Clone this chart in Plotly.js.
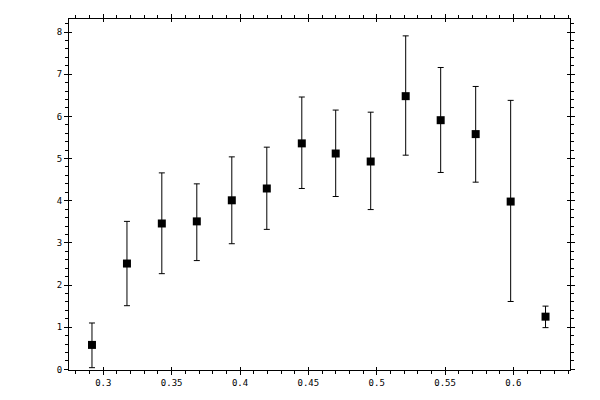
<!DOCTYPE html>
<html>
<head>
<meta charset="utf-8">
<script src="https://cdn.plot.ly/plotly-3.0.1.min.js"></script>
<style>
  html, body { margin: 0; padding: 0; background: #fff; }
  #chart { width: 600px; height: 400px; }
</style>
</head>
<body>
<div id="chart"></div>
<script>
// values
const xs = [0.2917, 0.3173, 0.3428, 0.3684, 0.394, 0.4196, 0.4452, 0.47,
  0.4956, 0.5212, 0.5468, 0.5724, 0.598, 0.6235];
const ys = [0.58, 2.51, 3.46, 3.51, 4.01, 4.29, 5.36, 5.12, 4.93, 6.48, 5.91, 5.58, 3.98, 1.25];
const yHigh = [1.10, 3.51, 4.66, 4.40, 5.04, 5.27, 6.46, 6.15, 6.10, 7.91, 7.16, 6.71, 6.38, 1.50];
const yLow = [0.04, 1.51, 2.27, 2.58, 2.98, 3.32, 4.29, 4.10, 3.79, 5.08, 4.67, 4.44, 1.61, 0.99];

const errPlus = ys.map((v, i) => yHigh[i] - v);
const errMinus = ys.map((v, i) => v - yLow[i]);

const xRange = [0.2749, 0.6414];
const yRange = [-0.015, 8.31];

var data = [{
  x: xs,
  y: ys,
  type: "scatter",
  mode: "markers",
  marker: { symbol: "square", size: 8, color: "#000" },
  error_y: {
    type: "data",
    symmetric: false,
    array: errPlus,
    arrayminus: errMinus,
    color: "#000",
    thickness: 1,
    width: 3,
  },
  hoverinfo: "x+y",
}];

var tickFont = { family: "DejaVu Sans Mono", size: 9, color: "#000" };

var layout = {
  width: 600,
  height: 400,
  margin: { l: 69, r: 30, t: 19, b: 30 },
  paper_bgcolor: "#fff",
  plot_bgcolor: "#fff",
  showlegend: false,
  xaxis: {
    range: xRange,
    showgrid: false,
    zeroline: false,
    showline: true,
    linecolor: "#000",
    linewidth: 1,
    mirror: "ticks",
    ticks: "outside",
    ticklen: 4,
    tickwidth: 1,
    tickcolor: "#000",
    dtick: 0.05,
    tick0: 0,
    tickfont: tickFont,
    minor: { dtick: 0.01, tick0: 0, ticks: "outside", ticklen: 3, tickcolor: "#000", showgrid: false },
  },
  yaxis: {
    range: yRange,
    showgrid: false,
    zeroline: false,
    showline: true,
    linecolor: "#000",
    linewidth: 1,
    mirror: "ticks",
    ticks: "outside",
    ticklen: 4,
    tickwidth: 1,
    tickcolor: "#000",
    dtick: 1,
    tick0: 0,
    tickfont: tickFont,
    minor: { dtick: 0.2, tick0: 0, ticks: "outside", ticklen: 3, tickcolor: "#000", showgrid: false },
  },
  // inner half of the major ticks
  xaxis2: {
    overlaying: "x",
    range: xRange,
    showgrid: false,
    zeroline: false,
    showticklabels: false,
    mirror: "ticks",
    ticks: "inside",
    ticklen: 3,
    tickcolor: "#000",
    dtick: 0.05,
    tick0: 0,
  },
  yaxis2: {
    overlaying: "y",
    range: yRange,
    showgrid: false,
    zeroline: false,
    showticklabels: false,
    mirror: "ticks",
    ticks: "inside",
    ticklen: 3,
    tickcolor: "#000",
    dtick: 1,
    tick0: 0,
  },
};

// empty trace just so the overlay axes get drawn
data.push({ x: [], y: [], xaxis: "x2", yaxis: "y2", type: "scatter", mode: "markers", hoverinfo: "skip" });

var config = { responsive: false, displayModeBar: false, staticPlot: true };

Plotly.newPlot("chart", data, layout, config);
</script>
</body>
</html>
